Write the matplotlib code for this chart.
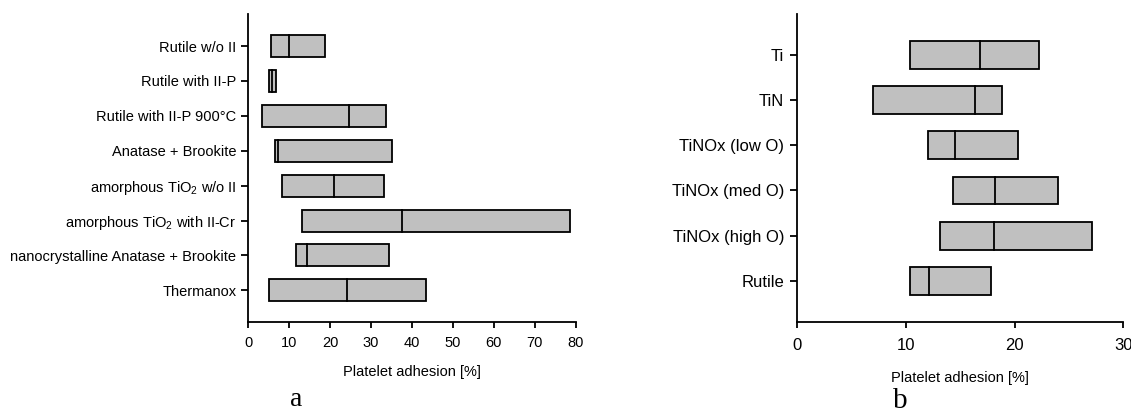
import matplotlib
matplotlib.use("Agg")
import matplotlib.pyplot as plt

plt.rcParams['font.family'] = ['Liberation Sans', 'DejaVu Sans']

# panel a data (bottom to top), low / median / high
labels_a = ["Thermanox", "nanocrystalline Anatase + Brookite",
            r"amorphous TiO$_\mathregular{2}$ with II-Cr",
            r"amorphous TiO$_\mathregular{2}$ w/o II",
            "Anatase + Brookite", "Rutile with II-P 900°C",
            "Rutile with II-P", "Rutile w/o II"]
low_a = [5.0, 11.75, 13.2, 8.15, 6.45, 3.4, 5.1, 5.55]
med_a = [24.2, 14.4, 37.5, 21.0, 7.35, 24.7, 5.9, 10.0]
high_a = [43.5, 34.5, 78.7, 33.25, 35.2, 33.7, 6.85, 18.7]

# panel b data (bottom to top)
labels_b = ["Rutile", "TiNOx (high O)", "TiNOx (med O)", "TiNOx (low O)", "TiN", "Ti"]
low_b = [10.4, 13.1, 14.3, 12.0, 7.0, 10.4]
med_b = [12.1, 18.1, 18.15, 14.55, 16.35, 16.8]
high_b = [17.8, 27.1, 24.0, 20.3, 18.85, 22.25]

fig = plt.figure(figsize=(11.31, 4.09), dpi=100)
ax1 = fig.add_axes([0.2195, 0.2134, 0.2895, 0.7524])
ax2 = fig.add_axes([0.705, 0.2134, 0.2882, 0.7524])


def draw(ax, labels, low, med, high, h, fs_tick, xpad, ypad):
    ys = list(range(len(labels)))
    widths = [hi - lo for lo, hi in zip(low, high)]
    ax.barh(ys, widths, left=low, height=h, color="#c0c0c0",
            edgecolor="black", linewidth=1.3, zorder=2)
    for y, m in zip(ys, med):
        ax.plot([m, m], [y - h / 2, y + h / 2], color="black", lw=1.3, zorder=3)
    ax.set_yticks(ys)
    ax.set_yticklabels(labels, fontsize=fs_tick)
    ax.spines["top"].set_visible(False)
    ax.spines["right"].set_visible(False)
    ax.spines["left"].set_linewidth(1.3)
    ax.spines["bottom"].set_linewidth(1.3)
    ax.tick_params(axis="y", length=5, width=1.3, pad=ypad)
    ax.tick_params(axis="x", length=4.5, width=1.3, labelsize=fs_tick, pad=xpad)


draw(ax1, labels_a, low_a, med_a, high_a, 0.63, 10.5, 6, 3.5)
ax1.set_xlim(0, 80)
ax1.set_xticks(range(0, 81, 10))
ax1.set_ylim(-0.9, 7.92)
ax1.set_xlabel("Platelet adhesion [%]", fontsize=10.5, labelpad=10.5)

draw(ax2, labels_b, low_b, med_b, high_b, 0.61, 12, 7.5, 4.5)
ax2.set_xlim(0, 30)
ax2.set_xticks([0, 10, 20, 30])
ax2.set_ylim(-0.9, 5.9)
ax2.set_xlabel("Platelet adhesion [%]", fontsize=10.5, labelpad=13)

fig.text(0.2623, 0.008, "a", fontsize=20, family="Liberation Serif", ha="center")
fig.text(0.7958, 0.003, "b", fontsize=21, family="Liberation Serif", ha="center")

fig.savefig("out.png", dpi=100)
